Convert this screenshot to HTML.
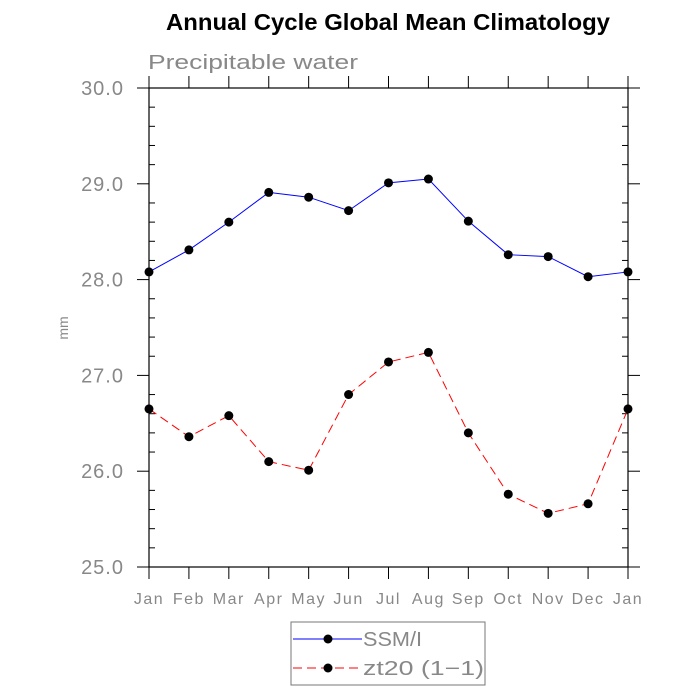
<!DOCTYPE html>
<html><head><meta charset="utf-8"><style>
body{margin:0;background:#fff}
svg{display:block;font-family:"Liberation Sans",sans-serif}
</style></head><body>
<svg id="chart" width="700" height="700">
<text x="388" y="30" text-anchor="middle" font-size="23" font-weight="bold" textLength="444" lengthAdjust="spacingAndGlyphs">Annual Cycle Global Mean Climatology</text>
<text x="148" y="69" font-size="20" fill="#888" textLength="210" lengthAdjust="spacingAndGlyphs">Precipitable water</text>
<text transform="translate(68,328) rotate(-90)" text-anchor="middle" font-size="14" fill="#888">mm</text>
<g id="axes"></g><g id="series"></g>
<rect x="291" y="622" width="194" height="63" fill="none" stroke="#777"/>
<g>
<line x1="293" y1="639" x2="362" y2="639" stroke="#00f"/><circle cx="328" cy="639" r="4.5"/>
<text x="363" y="646" font-size="20" fill="#888" textLength="59" lengthAdjust="spacingAndGlyphs">SSM/I</text></g>
<g>
<line x1="293" y1="668" x2="362" y2="668" stroke="#f00" stroke-dasharray="9,5"/><circle cx="328" cy="668" r="4.5"/>
<text x="363" y="675" font-size="20" fill="#888" textLength="121" lengthAdjust="spacingAndGlyphs">zt20 (1−1)</text></g>
</svg>
<script>
const months=["Jan","Feb","Mar","Apr","May","Jun","Jul","Aug","Sep","Oct","Nov","Dec","Jan"];
const ssmi=[28.08,28.31,28.60,28.91,28.86,28.72,29.01,29.05,28.61,28.26,28.24,28.03,28.08];
const zt20=[26.65,26.36,26.58,26.10,26.01,26.80,27.14,27.24,26.40,25.76,25.56,25.66,26.65];
const yTicks=["25.0","26.0","27.0","28.0","29.0","30.0"];
const NS="http://www.w3.org/2000/svg";
const L=149,R=628,T=88,B=567,ymin=25,ymax=30;
const xs=i=>L+(R-L)*i/(months.length-1);
const ys=v=>B-(B-T)*(v-ymin)/(ymax-ymin);
function mk(t,a,p){const e=document.createElementNS(NS,t);for(const k in a)e.setAttribute(k,a[k]);p.appendChild(e);return e;}
const ax=document.getElementById('axes');
const frame=mk('rect',{x:L,y:T,width:R-L,height:B-T,fill:'none',stroke:'#000','stroke-width':1.2},ax);


months.forEach((m,i)=>{const x=xs(i);
mk('line',{x1:x,y1:B,x2:x,y2:B+12,stroke:'#000'},ax);
mk('line',{x1:x,y1:T,x2:x,y2:T-12,stroke:'#000'},ax);
const t=mk('text',{x:x,y:B+37,'text-anchor':'middle','font-size':16,fill:'#888','letter-spacing':1.5},ax);t.textContent=m;

});
yTicks.forEach(s=>{const v=+s,y=ys(v);
mk('line',{x1:L-12,y1:y,x2:L,y2:y,stroke:'#000'},ax);
mk('line',{x1:R,y1:y,x2:R+12,y2:y,stroke:'#000'},ax);
const t=mk('text',{x:L-25,y:y+7,'text-anchor':'end','font-size':20,fill:'#888','letter-spacing':1},ax);t.textContent=s;


if(v<ymax)for(let k=1;k<5;k++){const yy=ys(v+k*0.2);
mk('line',{x1:L,y1:yy,x2:L+6,y2:yy,stroke:'#000'},ax);
mk('line',{x1:R-6,y1:yy,x2:R,y2:yy,stroke:'#000'},ax);}});
const sg=document.getElementById('series');
function series(vals,col,dash,name){
const p=mk('polyline',{points:vals.map((v,i)=>xs(i)+','+ys(v)).join(' '),fill:'none',stroke:col,'stroke-width':1,'stroke-dasharray':dash},sg);


vals.forEach((v,i)=>{const c=mk('circle',{cx:xs(i),cy:ys(v),r:4.5},sg);

});}
series(ssmi,'#00f','none','ssmi');
series(zt20,'#f00','9,5','zt20');
</script>
</body></html>
